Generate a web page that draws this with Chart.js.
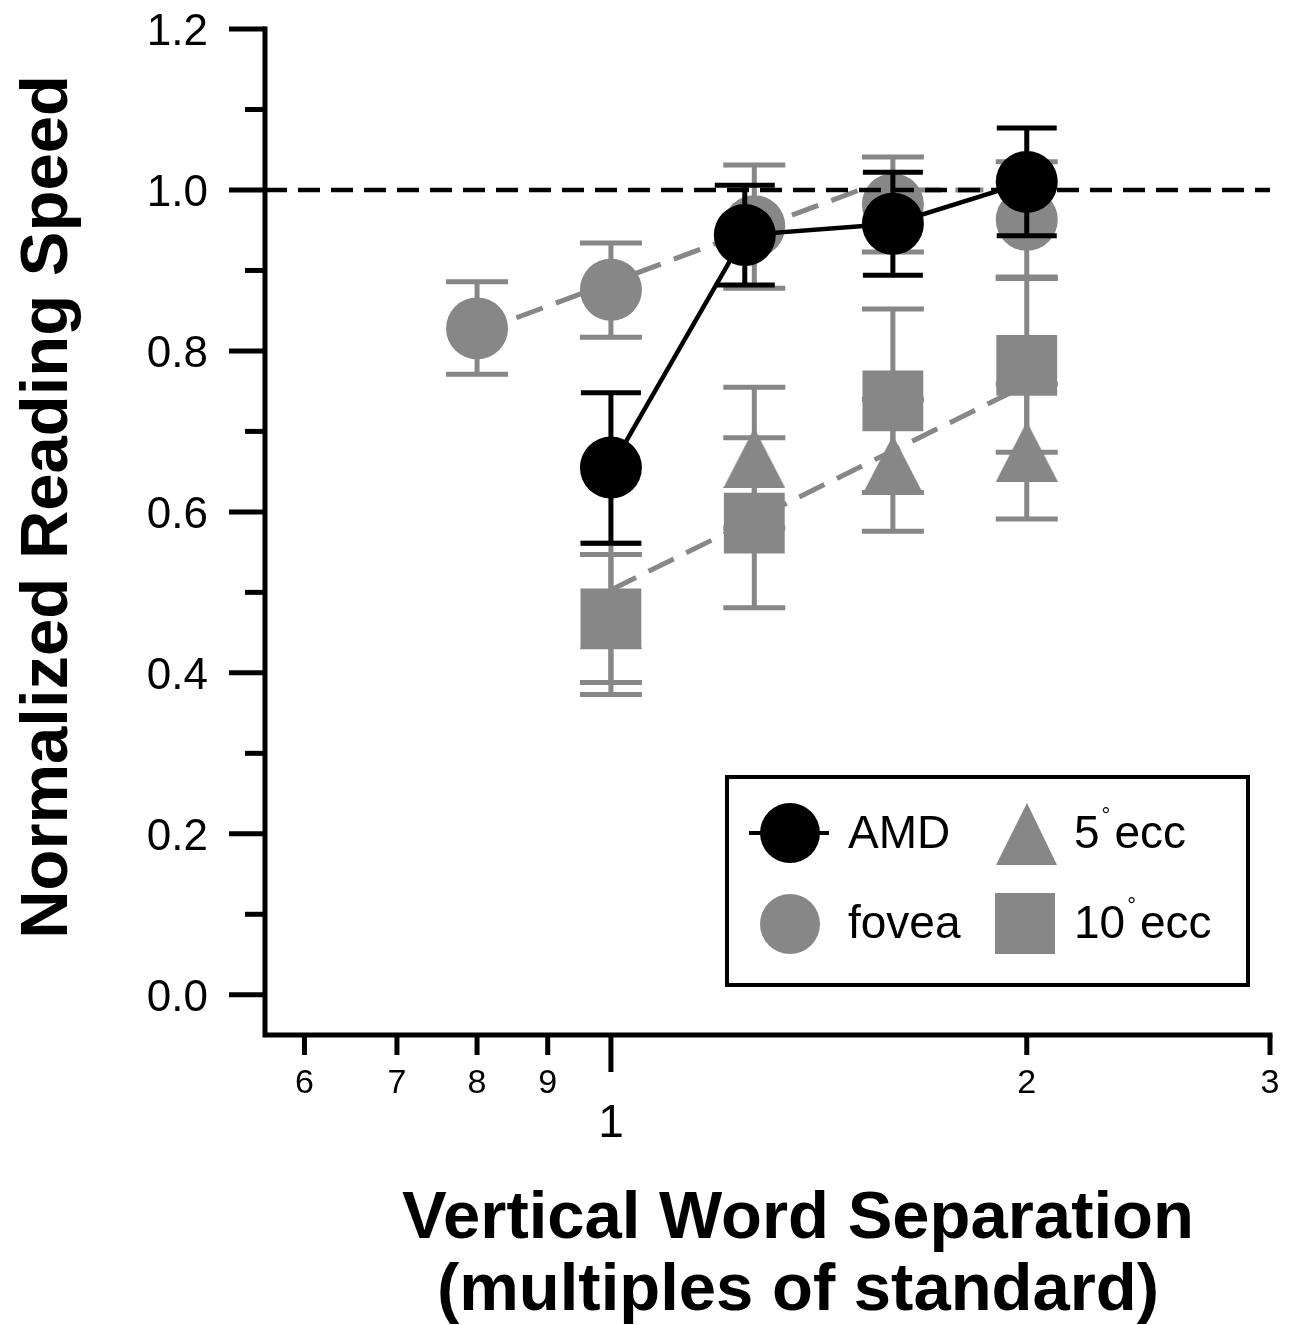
<!DOCTYPE html>
<html><head><meta charset="utf-8">
<script src="https://cdn.jsdelivr.net/npm/chart.js@4.4.0/dist/chart.umd.min.js"></script>
<style>html,body{margin:0;padding:0;background:#fff;} canvas{display:block;}</style>
</head><body>
<canvas id="c" width="1293" height="1325"></canvas>
<script>
const GRAY = '#878787';
const BLACK = '#000000';
const FONT = "'Liberation Sans', Arial, Helvetica, sans-serif";

// Axis ticks
const xTickValues = [0.6, 0.7, 0.8, 0.9, 1, 2, 3];
const xTickLabels = ['6', '7', '8', '9', '1', '2', '3'];
const xMajorTicks = [1];
const yTickValues = [0, 0.2, 0.4, 0.6, 0.8, 1.0, 1.2];
const yTickLabels = ['0.0', '0.2', '0.4', '0.6', '0.8', '1.0', '1.2'];
const yMinorTicks = [0.1, 0.3, 0.5, 0.7, 0.9, 1.1];
const xMin = 0.5618, xMax = 3, yMin = -0.05, yMax = 1.2;

// AMD
const amdX = [1.0, 1.25, 1.6, 2.0];
const amdY = [0.655, 0.944, 0.958, 1.010];
const amdLo = [0.561, 0.882, 0.894, 0.943];
const amdHi = [0.748, 1.006, 1.022, 1.077];

// fovea
const foveaX = [0.8, 1.0, 1.27, 1.6, 2.0];
const foveaY = [0.828, 0.876, 0.955, 0.982, 0.963];
const foveaLo = [0.771, 0.817, 0.878, 0.923, 0.892];
const foveaHi = [0.886, 0.934, 1.031, 1.041, 1.035];

// 5 deg ecc
const ecc5X = [1.0, 1.27, 1.6, 2.0];
const ecc5Y = [0.467, 0.667, 0.658, 0.675];
const ecc5Lo = [0.388, 0.580, 0.576, 0.591];
const ecc5Hi = [0.547, 0.755, 0.740, 0.759];

// 10 deg ecc
const ecc10X = [1.0, 1.27, 1.6, 2.0];
const ecc10Y = [0.467, 0.586, 0.738, 0.782];
const ecc10Lo = [0.373, 0.481, 0.624, 0.674];
const ecc10Hi = [0.561, 0.692, 0.852, 0.890];

// fitted curves
const foveaFitX = [0.8, 1.514, 2.0];
const foveaFitY = [0.823, 1.0, 1.0];
const ecc10FitX = [1.0, 2.0];
const ecc10FitY = [0.503, 0.758];
const refX = [xMin, xMax];
const refY = [1.0, 1.0];

const toPts = (xs, ys) => xs.map((x, i) => ({x: x, y: ys[i]}));

// triangle marker image
const tri = document.createElement('canvas');
tri.width = 62; tri.height = 60;
(function () {
  const t = tri.getContext('2d');
  t.fillStyle = GRAY;
  t.beginPath(); t.moveTo(31, 0); t.lineTo(62, 60); t.lineTo(0, 60); t.closePath(); t.fill();
})();

const custom = {
  id: 'custom',
  beforeDatasetDraw(chart, args) {
    const ds = chart.data.datasets[args.index];
    if (!ds.errLo) return;
    const xs = chart.scales.x, ys = chart.scales.y, ctx = chart.ctx;
    ctx.save();
    ctx.strokeStyle = ds.errColor; ctx.lineWidth = 5; ctx.lineCap = 'butt';
    const hw = ds.capHalf;
    ds.data.forEach((p, i) => {
      const px = xs.getPixelForValue(p.x);
      const y1 = ys.getPixelForValue(ds.errLo[i]), y2 = ys.getPixelForValue(ds.errHi[i]);
      ctx.beginPath();
      ctx.moveTo(px, y1); ctx.lineTo(px, y2);
      ctx.moveTo(px - hw, y1); ctx.lineTo(px + hw, y1);
      ctx.moveTo(px - hw, y2); ctx.lineTo(px + hw, y2);
      ctx.stroke();
    });
    ctx.restore();
  },
  afterDraw(chart) {
    const xs = chart.scales.x, ys = chart.scales.y, ctx = chart.ctx;
    const ca = chart.chartArea;
    ctx.save();
    ctx.strokeStyle = BLACK; ctx.fillStyle = BLACK;
    ctx.lineWidth = 5; ctx.lineCap = 'square';
    // axis lines
    ctx.beginPath();
    ctx.moveTo(ca.left, ys.getPixelForValue(yMax)); ctx.lineTo(ca.left, ca.bottom);
    ctx.lineTo(xs.getPixelForValue(xMax), ca.bottom);
    ctx.stroke();
    ctx.lineCap = 'butt';
    // y ticks
    yTickValues.forEach((v, i) => {
      const py = ys.getPixelForValue(v);
      ctx.beginPath(); ctx.moveTo(ca.left - 36, py); ctx.lineTo(ca.left, py); ctx.stroke();
      ctx.font = '44px ' + FONT; ctx.textAlign = 'right'; ctx.textBaseline = 'alphabetic';
      ctx.fillText(yTickLabels[i], ca.left - 57, py + 16);
    });
    yMinorTicks.forEach(v => {
      const py = ys.getPixelForValue(v);
      ctx.beginPath(); ctx.moveTo(ca.left - 20, py); ctx.lineTo(ca.left, py); ctx.stroke();
    });
    // x ticks
    xTickValues.forEach((v, i) => {
      const px = xs.getPixelForValue(v);
      const major = xMajorTicks.includes(v);
      ctx.beginPath(); ctx.moveTo(px, ca.bottom); ctx.lineTo(px, ca.bottom + (major ? 37 : 20)); ctx.stroke();
      ctx.textAlign = 'center'; ctx.textBaseline = 'alphabetic';
      if (major) { ctx.font = '46px ' + FONT; ctx.fillText(xTickLabels[i], px, ca.bottom + 102); }
      else { ctx.font = '34px ' + FONT; ctx.fillText(xTickLabels[i], px, ca.bottom + 58); }
    });
    // axis titles
    ctx.font = 'bold 67px ' + FONT; ctx.textAlign = 'center'; ctx.textBaseline = 'alphabetic';
    ctx.fillText('Vertical Word Separation', 798, 1238);
    ctx.fillText('(multiples of standard)', 798, 1310);
    ctx.save();
    ctx.translate(67, 507); ctx.rotate(-Math.PI / 2);
    ctx.fillText('Normalized Reading Speed', 0, 0);
    ctx.restore();
    // legend
    ctx.lineWidth = 4;
    ctx.strokeRect(727, 777, 521, 208);
    ctx.beginPath(); ctx.moveTo(749, 833); ctx.lineTo(829, 833); ctx.stroke();
    ctx.beginPath(); ctx.arc(790, 833, 30, 0, Math.PI * 2); ctx.fill();
    ctx.fillStyle = GRAY;
    ctx.beginPath(); ctx.arc(790, 924, 30, 0, Math.PI * 2); ctx.fill();
    ctx.beginPath(); ctx.moveTo(1027, 803); ctx.lineTo(1057, 865); ctx.lineTo(996, 865); ctx.closePath(); ctx.fill();
    ctx.fillRect(995, 893, 60, 61);
    ctx.fillStyle = BLACK;
    ctx.textAlign = 'left';
    ctx.font = '46px ' + FONT;
    ctx.fillText('AMD', 848, 848);
    ctx.fillText('fovea', 848, 938);
    const degLabel = (num, y) => {
      ctx.font = '46px ' + FONT;
      let x = 1074;
      ctx.fillText(num, x, y);
      x += ctx.measureText(num).width + 2;
      ctx.font = '22px ' + FONT;
      ctx.fillText('\u00B0', x, y - 25);
      x += ctx.measureText('\u00B0').width + 4;
      ctx.font = '46px ' + FONT;
      ctx.fillText('ecc', x, y);
    };
    degLabel('5', 848);
    degLabel('10', 938);
    ctx.restore();
  }
};

new Chart(document.getElementById('c'), {
  type: 'line',
  data: {
    datasets: [
      { label: 'AMD', data: toPts(amdX, amdY), borderColor: BLACK, borderWidth: 4.5,
        backgroundColor: BLACK, pointStyle: 'circle', pointRadius: 31, pointBorderWidth: 0,
        pointBackgroundColor: BLACK, errLo: amdLo, errHi: amdHi, errColor: BLACK, capHalf: 30, order: 0 },
      { label: 'ref', data: toPts(refX, refY), borderColor: BLACK, borderWidth: 4.5,
        borderDash: [22, 11], pointRadius: 0, order: 1 },
      { label: 'fovea', data: toPts(foveaX, foveaY), showLine: false, pointStyle: 'circle',
        pointRadius: 31, pointBorderWidth: 0, pointBackgroundColor: GRAY, backgroundColor: GRAY,
        errLo: foveaLo, errHi: foveaHi, errColor: GRAY, capHalf: 31, order: 2 },
      { label: 'fovea fit', data: toPts(foveaFitX, foveaFitY), borderColor: GRAY, borderWidth: 5,
        borderDash: [28, 14], pointRadius: 0, order: 3 },
      { label: '5° ecc', data: toPts(ecc5X, ecc5Y), showLine: false, pointStyle: tri,
        pointRadius: 31, pointBorderWidth: 0, pointBackgroundColor: GRAY,
        errLo: ecc5Lo, errHi: ecc5Hi, errColor: GRAY, capHalf: 31, order: 4 },
      { label: '10° ecc', data: toPts(ecc10X, ecc10Y), showLine: false, pointStyle: 'rect',
        pointRadius: 43, pointBorderWidth: 0, pointBackgroundColor: GRAY, backgroundColor: GRAY,
        errLo: ecc10Lo, errHi: ecc10Hi, errColor: GRAY, capHalf: 31, order: 5 },
      { label: '10° fit', data: toPts(ecc10FitX, ecc10FitY), borderColor: GRAY, borderWidth: 5,
        borderDash: [28, 14], pointRadius: 0, order: 6 }
    ]
  },
  options: {
    responsive: false,
    devicePixelRatio: 1,
    animation: false,
    layout: { autoPadding: false, padding: { left: 265, right: 23, top: 29, bottom: 290 } },
    plugins: { legend: { display: false }, tooltip: { enabled: false }, title: { display: false } },
    elements: { line: { tension: 0, fill: false } },
    scales: {
      x: { type: 'logarithmic', min: xMin, max: xMax, display: false },
      y: { type: 'linear', min: yMin, max: yMax, display: false }
    }
  },
  plugins: [custom]
});
</script>
</body></html>
